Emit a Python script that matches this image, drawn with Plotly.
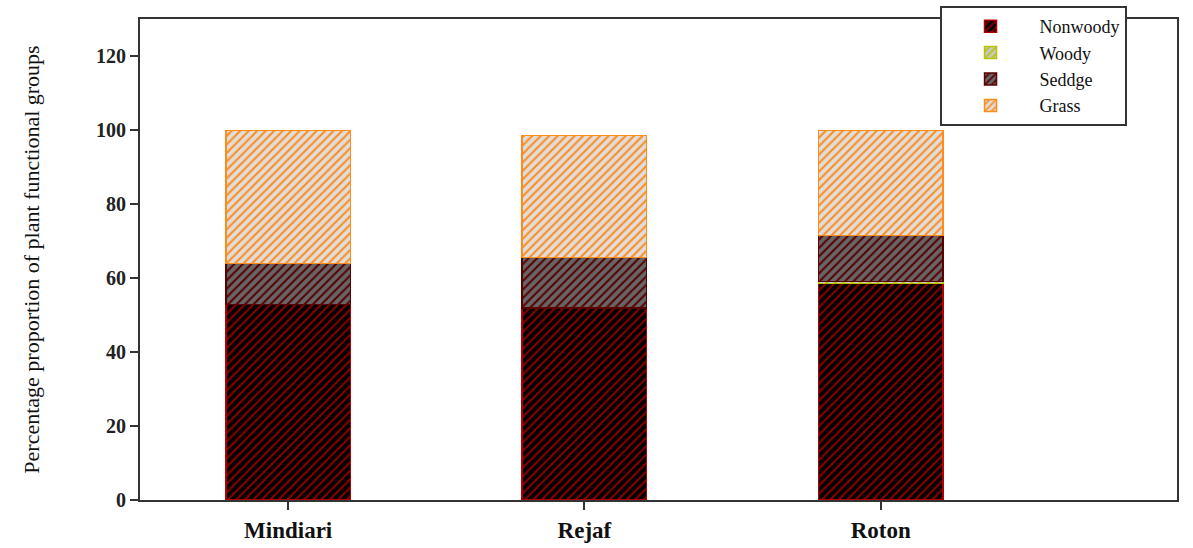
import plotly.graph_objects as go

# Sites and the share (%) of each plant functional group
sites = ["Mindiari", "Rejaf", "Roton"]
nonwoody = [52.8, 51.9, 58.5]
woody = [0.0, 0.0, 0.6]
seddge = [11.1, 13.6, 12.4]
grass = [36.0, 33.0, 28.4]
y_ticks = [0, 20, 40, 60, 80, 100, 120]

SERIF = "Liberation Serif, Times New Roman, serif"

# name, values, background fill, hatch colour, edge colour
groups = [
    ("Nonwoody", nonwoody, "#000000", "#8b0000", "#b00000"),
    ("Woody", woody, "#c8c8c8", "#b8c400", "#b8c400"),
    ("Seddge", seddge, "#666666", "#5a0000", "#5a0000"),
    ("Grass", grass, "#dedede", "#ff8c1a", "#ff8c1a"),
]

fig = go.Figure()
for name, vals, bg, fg, edge in groups:
    fig.add_trace(go.Bar(
        name=name,
        x=sites,
        y=vals,
        width=0.42,
        marker=dict(
            color=bg,
            line=dict(color=edge, width=1.5),
            pattern=dict(shape="/", bgcolor=bg, fgcolor=fg,
                         size=6, solidity=0.35, fillmode="replace"),
        ),
    ))

fig.update_layout(
    barmode="stack",
    width=1193,
    height=548,
    margin=dict(l=140, r=16, t=19, b=48, autoexpand=False),
    paper_bgcolor="white",
    plot_bgcolor="white",
    font=dict(family=SERIF, color="#111111"),
    legend=dict(
        x=0.771, y=1.027, xanchor="left", yanchor="top",
        bgcolor="white", bordercolor="#333333", borderwidth=2,
        font=dict(family=SERIF, size=18, color="#111111"),
        itemwidth=88,
        traceorder="normal",
    ),
    xaxis=dict(
        range=[-0.5, 3.0],
        showline=True, mirror=True, linecolor="#333333", linewidth=2,
        ticks="outside", ticklen=8, tickwidth=2, tickcolor="#333333",
        tickfont=dict(family=SERIF, size=23, color="#111111", weight="bold"),
        showgrid=False,
    ),
    yaxis=dict(
        range=[0, 130],
        tickvals=y_ticks,
        showline=True, mirror=True, linecolor="#333333", linewidth=2,
        ticks="outside", ticklen=8, tickwidth=2, tickcolor="#333333",
        tickfont=dict(family=SERIF, size=20, color="#222222", weight="bold"),
        showgrid=False, zeroline=False,
        title=dict(text="Percentage proportion of plant functional groups",
                   font=dict(family=SERIF, size=22, color="#111111"),
                   standoff=50),
    ),
)

fig.write_html("out.html")
